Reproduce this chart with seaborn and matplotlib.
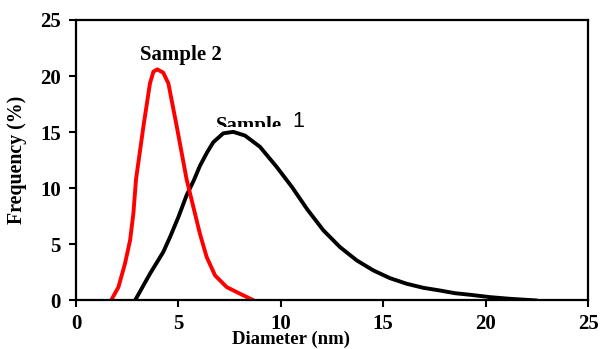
import pandas as pd
import matplotlib
matplotlib.use("Agg")
import matplotlib.pyplot as plt
from matplotlib.transforms import Bbox
import seaborn as sns

sns.set_style("white")
plt.rcParams["font.family"] = ["Liberation Serif", "DejaVu Serif"]
plt.rcParams.update({"text.color": "black", "axes.labelcolor": "black",
                     "xtick.color": "black", "ytick.color": "black"})

# ---- data ----
s1_diameter = [2.88, 3.61, 4.26, 4.59, 5.0, 5.40, 5.75, 6.05, 6.40, 6.70,
               7.19, 7.68, 8.25, 8.98, 9.80, 10.55, 11.30, 12.08, 12.89,
               13.71, 14.52, 15.33, 16.15, 16.96, 17.77, 18.5, 19.24,
               20.21, 21.19, 22.5]
s1_freq = [0.0, 2.38, 4.32, 5.65, 7.44, 9.38, 10.7, 12.0, 13.2, 14.1,
           14.9, 15.03, 14.7, 13.7, 11.9, 10.1, 8.1, 6.25, 4.76,
           3.57, 2.68, 1.99, 1.49, 1.13, 0.89, 0.65, 0.51,
           0.30, 0.15, 0.0]

s2_diameter = [1.71, 2.07, 2.39, 2.64, 2.80, 2.93, 3.29, 3.61, 3.78, 3.97,
               4.26, 4.51, 4.92, 5.40, 5.73, 6.05, 6.38, 6.79, 7.36, 8.01,
               8.69]
s2_freq = [0.0, 1.19, 3.28, 5.36, 7.74, 10.8, 15.5, 19.35, 20.4, 20.6,
           20.3, 19.35, 15.5, 10.8, 8.33, 5.95, 3.87, 2.23, 1.19, 0.6,
           0.0]

x_ticks = [0, 5, 10, 15, 20, 25]
y_ticks = [0, 5, 10, 15, 20, 25]

df = pd.concat([
    pd.DataFrame({"Diameter": s1_diameter, "Frequency": s1_freq, "Sample": "Sample 1"}),
    pd.DataFrame({"Diameter": s2_diameter, "Frequency": s2_freq, "Sample": "Sample 2"}),
])

fig, ax = plt.subplots(figsize=(6.0, 3.49), dpi=100)
fig.subplots_adjust(left=0.1267, right=0.98, bottom=0.139, top=0.9427)

sns.lineplot(data=df, x="Diameter", y="Frequency", hue="Sample",
             palette={"Sample 1": "black", "Sample 2": "red"},
             linewidth=2.8, sort=False, estimator=None, legend=False,
             solid_joinstyle="round", ax=ax)

ax.set_xlim(0, 25)
ax.set_ylim(0, 25)
ax.set_xticks(x_ticks)
ax.set_yticks(y_ticks)
ax.tick_params(direction="out", length=5, width=1.5, labelsize=15,
               bottom=True, left=True)
ax.tick_params(axis="x", pad=5)
ax.tick_params(axis="y", pad=6)
for lbl in ax.get_xticklabels() + ax.get_yticklabels():
    lbl.set_fontweight("bold")
for sp in ax.spines.values():
    sp.set_linewidth(1.6)
    sp.set_color("black")

ax.set_xlabel("Diameter (nm)", fontsize=13.5, fontweight="bold")
ax.xaxis.label.set_va("baseline")
ax.xaxis.set_label_coords(0.42, -0.154)
ax.set_ylabel("Frequency (%)", fontsize=14.3, fontweight="bold")
ax.yaxis.set_label_coords(-0.096, 0.5)

ax.text(5.13, 21.4, "Sample 2", fontsize=15, fontweight="bold",
        ha="center", va="baseline")
# "Sample" of sample 1 is cut off at its lower edge in the original
t = ax.text(6.84, 15.09, "Sample", fontsize=15, fontweight="bold",
            ha="left", va="baseline")
t.set_clip_box(Bbox.from_extents(0, 349 - 126.5, 600, 349))
t.set_clip_on(True)
ax.text(10.55, 15.45, "1", fontsize=15.5, family="Liberation Sans",
        ha="left", va="baseline")

plt.savefig("out.png", dpi=100)
